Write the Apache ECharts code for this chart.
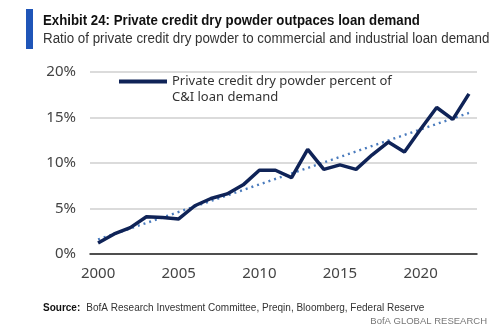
<!DOCTYPE html>
<html><head><meta charset="utf-8">
<script src="https://cdn.jsdelivr.net/npm/echarts@6/dist/echarts.min.js"></script>
<style>html,body{margin:0;padding:0;background:#fff}#c{width:500px;height:336px}</style>
</head><body><div id="c"></div>
<script>
const years = ['2000','2001','2002','2003','2004','2005','2006','2007','2008','2009','2010','2011','2012','2013','2014','2015','2016','2017','2018','2019','2020','2021','2022','2023'];
const dryPowderPct = [1.2,2.2,2.9,4.1,4.0,3.85,5.3,6.1,6.6,7.6,9.2,9.2,8.4,11.5,9.3,9.8,9.3,10.9,12.3,11.2,13.7,16.1,14.8,17.6];
const trendYears = ['2000','2023'];
const trendValues = [1.6,15.5];
const yTicks = [0,5,10,15,20];
const seriesName = 'Private credit dry powder percent of';
const legendLine2 = 'C&I loan demand';

const chart = echarts.init(document.getElementById('c'));
chart.setOption({
  animation:false,
  backgroundColor:'#fff',
  grid:{left:90,right:23,top:72,bottom:82},
  graphic:[
    {type:'rect',shape:{x:26,y:9,width:7,height:40},style:{fill:'#1f55b8'}},
    {type:'text',x:43,y:13,scaleX:0.883,style:{text:'Exhibit 24: Private credit dry powder outpaces loan demand',font:'bold 15px "Liberation Sans", sans-serif',fill:'#111'}},
    {type:'text',x:43,y:32,scaleX:0.953,style:{text:'Ratio of private credit dry powder to commercial and industrial loan demand',font:'14px "Liberation Sans", sans-serif',fill:'#333'}},
    {type:'text',x:172,y:91,style:{text:legendLine2,font:'13px "Noto Sans", sans-serif',fill:'#333'}},
    {type:'text',x:43,y:302,style:{rich:{b:{font:'bold 10px "Liberation Sans", sans-serif',fill:'#111'},n:{font:'10px "Liberation Sans", sans-serif',fill:'#333'}},text:'{b|Source:} {n| BofA Research Investment Committee, Preqin, Bloomberg, Federal Reserve}'}},
    {type:'text',right:13,top:316,style:{text:'BofA GLOBAL RESEARCH',font:'9.5px "Liberation Sans", sans-serif',fill:'#777'}}
  ],
  legend:{
    data:[seriesName],
    left:114,top:70,
    itemWidth:48,itemHeight:4,itemGap:5,
    icon:'rect',
    textStyle:{fontSize:13,color:'#333',fontFamily:'"Noto Sans", sans-serif'}
  },
  xAxis:{
    type:'category',data:years,boundaryGap:true,
    axisLine:{lineStyle:{color:'#222',width:1.5}},
    axisTick:{show:false},
    axisLabel:{interval:4,color:'#444',fontSize:15,margin:12,fontFamily:'"Noto Sans", sans-serif'}
  },
  yAxis:{
    type:'value',min:0,max:20,interval:5,
    axisLabel:{formatter:function(v){return yTicks.indexOf(v)>=0? v+'%':'';},color:'#444',fontSize:15,margin:14,fontFamily:'"Noto Sans", sans-serif'},
    splitLine:{lineStyle:{color:'#cfcfcf',width:1.5}},
    axisLine:{show:false},axisTick:{show:false}
  },
  series:[
    {name:'trend',type:'line',data:trendYears.map((y,i)=>[y,trendValues[i]]),symbol:'none',
     lineStyle:{color:'#4a7bbd',width:2.4,type:[2,4]},z:1},
    {name:seriesName,type:'line',data:dryPowderPct,symbol:'none',
     lineStyle:{color:'#0f2357',width:3.5},itemStyle:{color:'#0f2357'},z:2}
  ]
});
</script></body></html>
